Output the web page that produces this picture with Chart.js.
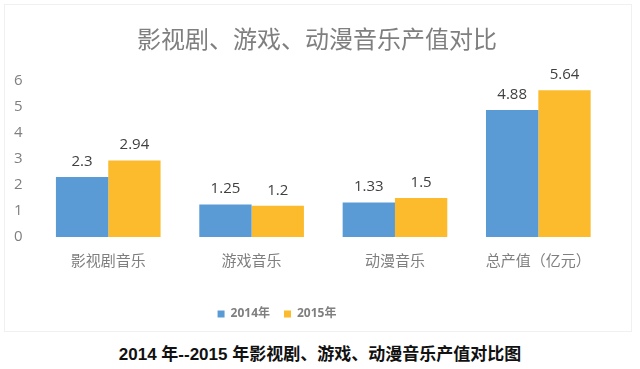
<!DOCTYPE html>
<html>
<head>
<meta charset="utf-8">
<script src="https://cdn.jsdelivr.net/npm/chart.js@4.4.0/dist/chart.umd.min.js"></script>
<style>
  html, body { margin: 0; padding: 0; background: #fff; }
  #wrap { position: relative; width: 640px; height: 369px; }
  #box { position: absolute; left: 4px; top: 4px; width: 626px; height: 326px; border: 1px solid #f0f0f0; }
  #chart { position: absolute; left: 0; top: 0; }
  #caption {
    position: absolute; left: 0; top: 340px; width: 640px; text-align: center;
    font-family: "Liberation Sans", "Noto Sans CJK SC", sans-serif;
    font-size: 17px; font-weight: bold; color: #111;
  }
</style>
</head>
<body>
<div id="wrap">
  <div id="box"></div>
  <canvas id="chart" width="640" height="335"></canvas>
  <div id="caption">2014 年--2015 年影视剧、游戏、动漫音乐产值对比图</div>
</div>
<script>
// chart data
var categories = ["影视剧音乐", "游戏音乐", "动漫音乐", "总产值（亿元）"];
var values2014 = [2.3, 1.25, 1.33, 4.88];
var values2015 = [2.94, 1.2, 1.5, 5.64];
var seriesNames = ["2014年", "2015年"];
var yTicks = [0, 1, 2, 3, 4, 5, 6];

var FONT = "'Open Sans', 'Noto Sans CJK SC', sans-serif";

// draws the value above each bar
var barLabels = {
  id: "barLabels",
  afterDatasetsDraw: function (chart) {
    var ctx = chart.ctx;
    ctx.save();
    ctx.font = "15px " + FONT;
    ctx.fillStyle = "#404040";
    ctx.textAlign = "center";
    ctx.textBaseline = "bottom";
    chart.data.datasets.forEach(function (ds, i) {
      chart.getDatasetMeta(i).data.forEach(function (bar, j) {
        ctx.fillText(String(ds.data[j]), bar.x, bar.y - 8);
      });
    });
    ctx.restore();
  }
};

// nudge title and legend to where the original has them
var blockShift = {
  id: "blockShift",
  afterLayout: function (chart) {
    chart.legend.left -= 28;
    chart.legend.right -= 28;
    chart.titleBlock.left += 12;
    chart.titleBlock.right += 12;
  }
};

new Chart(document.getElementById("chart").getContext("2d"), {
  type: "bar",
  data: {
    labels: categories,
    datasets: [
      {
        label: seriesNames[0],
        data: values2014,
        backgroundColor: "#5b9bd5",
        categoryPercentage: 0.73,
        barPercentage: 1
      },
      {
        label: seriesNames[1],
        data: values2015,
        backgroundColor: "#fbbb2c",
        categoryPercentage: 0.73,
        barPercentage: 1
      }
    ]
  },
  options: {
    responsive: false,
    animation: false,
    layout: { padding: { left: 0, right: 30, top: 0, bottom: 5 } },
    plugins: {
      title: {
        display: true,
        text: "影视剧、游戏、动漫音乐产值对比",
        color: "#7f7f7f",
        font: { family: FONT, size: 24, weight: "normal" },
        padding: { top: 27, bottom: 25 }
      },
      legend: {
        position: "bottom",
        labels: {
          color: "#7f7f7f",
          boxWidth: 7,
          boxHeight: 7,
          padding: 14,
          font: { family: FONT, size: 12, weight: "bold" }
        }
      },
      tooltip: { enabled: false }
    },
    scales: {
      x: {
        grid: { display: false, drawTicks: false },
        border: { display: false },
        ticks: { color: "#7f7f7f", font: { family: FONT, size: 15 }, padding: 16 },
        afterFit: function (axis) { axis.height += 7; }
      },
      y: {
        min: 0,
        max: 6,
        afterBuildTicks: function (axis) {
          axis.ticks = yTicks.map(function (v) { return { value: v }; });
        },
        grid: { display: false, drawTicks: false },
        border: { display: false },
        ticks: { color: "#7f7f7f", font: { family: FONT, size: 15 }, padding: 14 }
      }
    }
  },
  plugins: [barLabels, blockShift]
});
</script>
</body>
</html>
